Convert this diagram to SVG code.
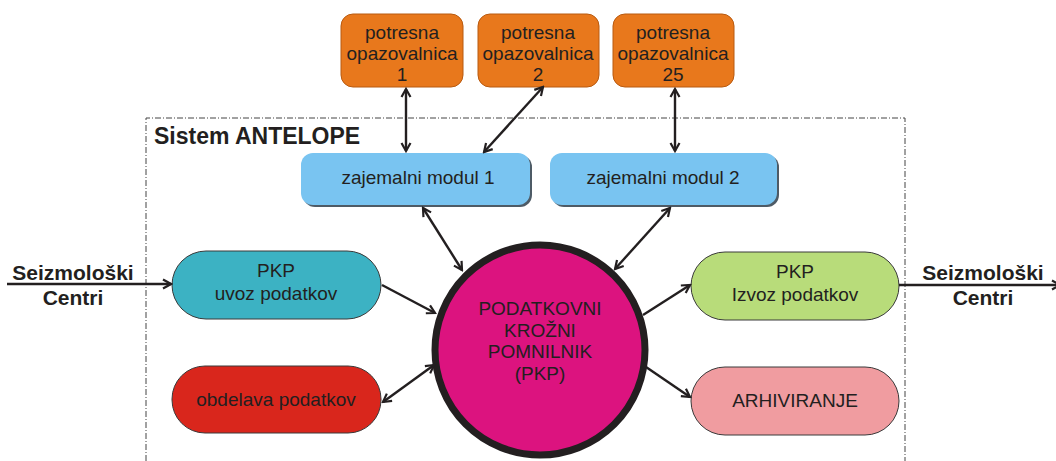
<svg xmlns="http://www.w3.org/2000/svg" width="1056" height="461" viewBox="0 0 1056 461">
<defs>
<marker id="ah" markerWidth="12" markerHeight="12" refX="10" refY="6" orient="auto-start-reverse" markerUnits="userSpaceOnUse">
<path d="M2,1.5 L10,6 L2,10.5" fill="none" stroke="#231f20" stroke-width="2.2"/>
</marker>
</defs>
<style>
text{font-family:"Liberation Sans",Arial,sans-serif;fill:#231f20;text-anchor:middle}
.t{font-size:19px}
.b{font-size:21px;font-weight:bold}
.h{font-size:23px;font-weight:bold;text-anchor:start}
.c{stroke:#231f20;stroke-width:2.4;fill:none}
.orange{fill:#e8781c;stroke:#b85a10;stroke-width:1}
.blue{fill:#79c4f1}
.pill{stroke:#3a3a3a;stroke-width:1}
</style>
<rect width="1056" height="461" fill="#fff"/>
<path d="M146,461 L146,118 L905,118 L905,461" fill="none" stroke="#444" stroke-width="1" stroke-dasharray="6,2,1,2"/>
<text class="h" x="154" y="144">Sistem ANTELOPE</text>

<g id="obs1"><rect class="orange" x="341" y="14" width="122" height="73" rx="12"/>
<text class="t" x="402" y="39">potresna</text><text class="t" x="402" y="60">opazovalnica</text><text class="t" x="402" y="81">1</text></g>
<g id="obs2"><rect class="orange" x="478" y="14" width="121" height="73" rx="12"/>
<text class="t" x="538" y="39">potresna</text><text class="t" x="538" y="60">opazovalnica</text><text class="t" x="538" y="81">2</text></g>
<g id="obs25"><rect class="orange" x="613" y="14" width="121" height="73" rx="12"/>
<text class="t" x="673" y="39">potresna</text><text class="t" x="673" y="60">opazovalnica</text><text class="t" x="673" y="81">25</text></g>

<g id="zaj1"><rect x="303" y="155" width="229" height="52" rx="12" fill="#4e5b66"/><rect class="blue" x="301" y="153" width="229" height="52" rx="12"/>
<text class="t" x="418" y="184">zajemalni modul 1</text></g>
<g id="zaj2"><rect x="552" y="155" width="227" height="52" rx="12" fill="#4e5b66"/><rect class="blue" x="550" y="153" width="227" height="52" rx="12"/>
<text class="t" x="663" y="184">zajemalni modul 2</text></g>

<g id="uvoz"><rect class="pill" x="172" y="251" width="209" height="68" rx="34" fill="#3cb2c3"/>
<text class="t" x="276" y="277">PKP</text><text class="t" x="276" y="300">uvoz podatkov</text></g>
<g id="obdelava"><rect class="pill" x="172" y="366" width="209" height="67" rx="33" fill="#d9261c"/>
<text class="t" x="276" y="406">obdelava podatkov</text></g>
<g id="izvoz"><rect class="pill" x="691" y="252" width="208" height="68" rx="34" fill="#b8dc7a"/>
<text class="t" x="795" y="278">PKP</text><text class="t" x="795" y="301">Izvoz podatkov</text></g>
<g id="arhiv"><rect class="pill" x="691" y="367" width="208" height="68" rx="34" fill="#f09ca0"/>
<text class="t" x="795" y="407">ARHIVIRANJE</text></g>

<g id="pkp"><circle cx="540" cy="350" r="105" fill="#dc137f" stroke="#231f20" stroke-width="7"/>
<text class="t" x="540" y="315">PODATKOVNI</text><text class="t" x="540" y="337">KROŽNI</text><text class="t" x="540" y="358">POMNILNIK</text><text class="t" x="540" y="380">(PKP)</text></g>

<g id="seiz-left"><text class="b" x="73" y="280">Seizmološki</text><text class="b" x="73" y="305">Centri</text></g>
<g id="seiz-right"><text class="b" x="983" y="280">Seizmološki</text><text class="b" x="983" y="305">Centri</text></g>

<g id="connectors">
<line class="c" x1="406" y1="89" x2="406" y2="151" marker-start="url(#ah)" marker-end="url(#ah)"/>
<line class="c" x1="543" y1="87" x2="484" y2="152" marker-start="url(#ah)" marker-end="url(#ah)"/>
<line class="c" x1="675" y1="89" x2="675" y2="151" marker-start="url(#ah)" marker-end="url(#ah)"/>
<line class="c" x1="423" y1="208" x2="462" y2="270" marker-start="url(#ah)" marker-end="url(#ah)"/>
<line class="c" x1="670" y1="208" x2="615" y2="269" marker-start="url(#ah)" marker-end="url(#ah)"/>
<line class="c" x1="382" y1="285" x2="435" y2="313" marker-end="url(#ah)"/>
<line class="c" x1="383" y1="402" x2="434" y2="365" marker-start="url(#ah)" marker-end="url(#ah)"/>
<line class="c" x1="643" y1="315" x2="690" y2="285" marker-end="url(#ah)"/>
<line class="c" x1="646" y1="367" x2="690" y2="397" marker-end="url(#ah)"/>
<line class="c" x1="7" y1="284" x2="171" y2="284" marker-end="url(#ah)"/>
<line class="c" x1="899" y1="285" x2="1060" y2="285" marker-end="url(#ah)"/>
</g>
</svg>
